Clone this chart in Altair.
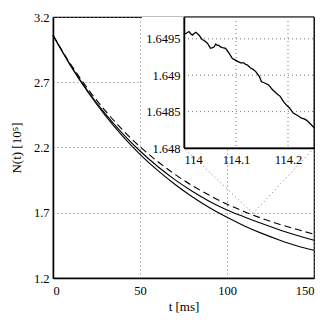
import altair as alt
import pandas as pd

# ---- main curves (N in units of 1e5, t in ms) ----
T = [0, 10, 20, 30, 40, 50, 60, 70, 80, 90, 100, 110, 120, 130, 140, 150]
LOWER = [3.06, 2.829, 2.625, 2.446, 2.287, 2.148, 2.026, 1.918, 1.822, 1.738, 1.665, 1.599, 1.542, 1.492, 1.447, 1.412]
MIDDLE = [3.06, 2.832, 2.633, 2.459, 2.306, 2.173, 2.056, 1.954, 1.865, 1.787, 1.722, 1.668, 1.617, 1.570, 1.528, 1.489]
DASHED = [3.06, 2.841, 2.650, 2.482, 2.335, 2.206, 2.094, 1.995, 1.908, 1.833, 1.766, 1.708, 1.657, 1.612, 1.573, 1.535]

# ---- inset (zoom of the stochastic curve) ----
INSET_T = [114.000, 114.005, 114.0096, 114.013, 114.016, 114.019, 114.0225, 114.026, 114.029, 114.035,
           114.040, 114.045, 114.051, 114.055, 114.058, 114.061, 114.064, 114.067, 114.070, 114.074,
           114.080, 114.087, 114.093, 114.098, 114.103, 114.109, 114.115, 114.118, 114.122, 114.128,
           114.133, 114.138, 114.145, 114.149, 114.153, 114.156, 114.162, 114.166, 114.169, 114.175,
           114.178, 114.185, 114.191, 114.197, 114.203, 114.207, 114.210, 114.215, 114.220, 114.226,
           114.231, 114.236, 114.242, 114.246, 114.250]
INSET_N = [1.64956, 1.64958, 1.64960, 1.64957, 1.64955, 1.64957, 1.64959, 1.64957, 1.64955, 1.64949,
           1.64947, 1.64944, 1.64937, 1.64938, 1.64939, 1.64943, 1.64941, 1.64941, 1.64939, 1.64938,
           1.64937, 1.64930, 1.64923, 1.64921, 1.64919, 1.64917, 1.64917, 1.64915, 1.64914, 1.64910,
           1.64908, 1.64905, 1.64898, 1.64891, 1.64890, 1.64889, 1.64887, 1.64884, 1.64881, 1.64877,
           1.64875, 1.64871, 1.64864, 1.64859, 1.64855, 1.64851, 1.64848, 1.64846, 1.64844, 1.64841,
           1.64840, 1.64838, 1.64834, 1.64831, 1.64828]

X_DOMAIN = [0, 150]
Y_DOMAIN = [1.2, 3.2]
X_TICKS = [0, 50, 100, 150]
Y_TICKS = [1.2, 1.7, 2.2, 2.7, 3.2]
INSET_X_DOMAIN = [114, 114.25]
INSET_Y_DOMAIN = [1.648, 1.6498]
INSET_X_TICKS = [114, 114.1, 114.2]
INSET_Y_TICKS = [1.648, 1.6485, 1.649, 1.6495]
ZOOM_T, ZOOM_N = 115, 1.695

# layout (pixels inside the 261x261 plot area)
W = H = 261
INSET_LEFT, INSET_BOTTOM = 131, 131

FONT = "Liberation Serif"
GRID = dict(grid=True, gridDash=[1, 3], gridColor="#777", gridWidth=1, gridOpacity=1)

df_main = pd.DataFrame({
    "t": T * 3,
    "N": LOWER + MIDDLE + DASHED,
    "series": ["lower"] * len(T) + ["middle"] * len(T) + ["dashed"] * len(T),
})
df_inset = pd.DataFrame({"ti": INSET_T, "Ni": INSET_N})
df_igx = pd.DataFrame({"ti": INSET_X_TICKS[1:]})
df_igy = pd.DataFrame({"Ni": INSET_Y_TICKS[1:]})
one = pd.DataFrame({"k": [0]})

mx = alt.X("t:Q", scale=alt.Scale(domain=X_DOMAIN, nice=False, zero=False),
           axis=alt.Axis(values=X_TICKS, format="d", title="t [ms]", ticks=False,
                         labelPadding=6, titleX=W / 2, titleY=28, titleBaseline="middle",
                         domainColor="black", domainWidth=1.5, **GRID))
my = alt.Y("N:Q", scale=alt.Scale(domain=Y_DOMAIN, nice=False, zero=False),
           axis=alt.Axis(values=Y_TICKS, format=".1f", title="N(t) [10⁵]", ticks=False,
                         labelPadding=4, titleX=-37, titleY=H / 2, titleAngle=-90,
                         titleBaseline="middle", domainColor="black", domainWidth=1.5, **GRID))

backing = alt.Chart(one).mark_rect(fill="white").encode(
    x=alt.value(89), x2=alt.value(INSET_LEFT), y=alt.value(0), y2=alt.value(INSET_BOTTOM + 3))

solid = alt.Chart(df_main).transform_filter("datum.series != 'dashed'").mark_line(
    color="black", strokeWidth=1.1, interpolate="monotone").encode(x=mx, y=my, detail="series:N")
dashed = alt.Chart(df_main).transform_filter("datum.series == 'dashed'").mark_line(
    color="black", strokeWidth=1.1, strokeDash=[7, 4], interpolate="monotone").encode(x=mx, y=my)

zoom_df = pd.DataFrame({"t": [ZOOM_T], "N": [ZOOM_N]})
conn1 = alt.Chart(zoom_df).mark_rule(color="#777", strokeDash=[1, 3]).encode(
    x=mx, y=my, x2=alt.value(INSET_LEFT), y2=alt.value(INSET_BOTTOM))
conn2 = alt.Chart(zoom_df).mark_rule(color="#777", strokeDash=[1, 3]).encode(
    x=mx, y=my, x2=alt.value(W), y2=alt.value(INSET_BOTTOM))

main = alt.layer(backing, solid, dashed, conn1, conn2)

ix = alt.X("ti:Q", scale=alt.Scale(domain=INSET_X_DOMAIN, range=[INSET_LEFT, W], nice=False, zero=False),
           axis=alt.Axis(orient="bottom", offset=-(H - INSET_BOTTOM), values=INSET_X_TICKS, format=".4~r",
                         title=None, ticks=False, labelPadding=5, zindex=1, grid=False,
                         domainColor="black", domainWidth=1.5))
iy = alt.Y("Ni:Q", scale=alt.Scale(domain=INSET_Y_DOMAIN, range=[INSET_BOTTOM, 0], nice=False, zero=False),
           axis=alt.Axis(orient="left", offset=-INSET_LEFT, values=INSET_Y_TICKS, format=".5~r",
                         title=None, ticks=False, labelPadding=4, zindex=1, grid=False,
                         domainColor="black", domainWidth=1.5))

frame = alt.Chart(one).mark_rect(fill="white", stroke="black", strokeWidth=1).encode(
    x=alt.value(INSET_LEFT), x2=alt.value(W), y=alt.value(0), y2=alt.value(INSET_BOTTOM))
gx = alt.Chart(df_igx).mark_rule(color="#777", strokeDash=[1, 3]).encode(
    x=alt.X("ti:Q"), y=alt.value(0), y2=alt.value(INSET_BOTTOM))
gy = alt.Chart(df_igy).mark_rule(color="#777", strokeDash=[1, 3]).encode(
    y=alt.Y("Ni:Q"), x=alt.value(INSET_LEFT), x2=alt.value(W))
inset_line = alt.Chart(df_inset).mark_line(color="black", strokeWidth=1.3).encode(x=ix, y=iy)
inset = alt.layer(frame, gx, gy, inset_line)

chart = alt.layer(main, inset).resolve_scale(x="independent", y="independent").properties(
    width=W, height=H,
    padding={"left": 45, "top": 9, "right": 5, "bottom": 40},
    autosize=alt.AutoSizeParams(type="none"),
).configure(font=FONT).configure_view(stroke="black", strokeWidth=1.2).configure_axis(
    labelFont=FONT, labelFontSize=12.5, labelColor="black",
    titleFont=FONT, titleFontSize=13, titleColor="black", titleFontWeight="normal",
)

chart.save("out.html", embed_options={"renderer": "svg", "actions": False})
